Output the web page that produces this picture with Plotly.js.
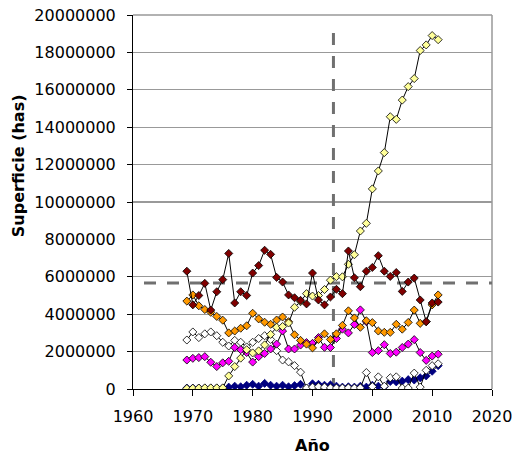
<!DOCTYPE html>
<html>
<head>
<meta charset="utf-8">
<script src="https://cdn.plot.ly/plotly-3.0.1.min.js"></script>
<style>html,body{margin:0;padding:0;background:#fff}#chart{width:514px;height:454px}</style>
</head>
<body>
<div id="chart"></div>
<script>
var years = [1969,1970,1971,1972,1973,1974,1975,1976,1977,1978,1979,1980,1981,1982,1983,1984,1985,1986,1987,1988,1989,1990,1991,1992,1993,1994,1995,1996,1997,1998,1999,2000,2001,2002,2003,2004,2005,2006,2007,2008,2009,2010,2011];

var serieGranate = [6300000,4500000,5000000,5650000,4220000,5200000,5850000,7250000,4600000,5200000,5000000,6200000,6600000,7420000,7200000,5970000,5720000,5030000,4880000,4740000,4550000,6200000,4760000,4500000,4920000,5330000,5100000,7380000,5950000,5470000,6300000,6500000,7130000,6300000,6020000,6230000,5220000,5720000,5930000,4760000,3600000,4600000,4650000];

var serieNaranja = [4700000,5030000,4450000,4250000,4100000,3880000,3680000,3000000,3100000,3250000,3380000,4050000,3750000,3570000,3460000,3690000,3850000,3600000,2900000,2600000,2400000,2200000,2650000,2950000,2650000,2950000,3400000,4180000,3800000,3300000,3650000,3550000,3100000,3030000,3030000,3460000,3200000,3560000,4220000,3510000,3600000,4500000,5030000];

var serieMagenta = [1550000,1640000,1680000,1730000,1430000,1200000,1400000,1480000,2220000,2100000,1950000,1440000,1730000,1900000,2140000,2400000,3100000,2140000,2140000,2350000,2480000,2440000,2750000,2230000,2220000,2700000,3200000,3000000,3450000,4230000,3600000,1950000,2050000,2370000,1900000,1970000,2220000,2400000,2640000,1950000,1530000,1760000,1860000];

var serieBlanca = [2620000,3050000,2750000,2950000,3050000,2850000,2500000,2300000,2600000,2500000,2250000,2500000,2700000,2850000,2650000,2050000,1550000,1450000,1250000,900000,50000,100000,120000,100000,60000,50000,50000,60000,50000,60000,880000,130000,650000,150000,600000,650000,50000,50000,850000,100000,1000000,1250000,1350000];

var serieAmarilla = [30000,40000,50000,60000,60000,60000,60000,700000,1200000,1650000,2100000,1930000,2040000,2360000,2920000,3300000,3340000,3530000,4370000,4670000,5100000,4970000,5000000,5320000,5820000,6010000,6000000,6670000,7180000,8450000,8860000,10700000,11660000,12640000,14560000,14420000,15450000,16170000,16600000,18100000,18400000,18900000,18680000];

var serieAzul = [50000,50000,50000,50000,50000,50000,50000,100000,150000,120000,200000,250000,150000,300000,200000,150000,200000,120000,180000,250000,50000,280000,250000,200000,220000,150000,100000,120000,100000,150000,100000,200000,150000,120000,400000,380000,420000,500000,480000,600000,700000,950000,1250000];

var refHorizontal = 5670000;
var refVertical = 1993.5;
var refVerticalTop = 19040000;

var F = 'DejaVu Sans, Liberation Sans, Arial, sans-serif';

function serie(y, fill, outline) {
  return {
    x: years, y: y, type: 'scatter', mode: 'lines+markers',
    line: {color: '#000000', width: 1},
    marker: {symbol: 'diamond', size: 6.2, color: fill, line: {color: outline, width: 0.8}},
    showlegend: false, hoverinfo: 'skip'
  };
}

var data = [
  serie(serieAzul, '#000080', '#000080'),
  serie(serieBlanca, '#FFFFFF', '#000000'),
  serie(serieMagenta, '#FF00FF', '#000000'),
  serie(serieNaranja, '#FF9900', '#000000'),
  serie(serieAmarilla, '#FFFF99', '#000000'),
  serie(serieGranate, '#800000', '#000000')
];

var layout = {
  width: 514, height: 454,
  margin: {l: 133, r: 22, t: 15, b: 65, pad: 0},
  paper_bgcolor: '#ffffff', plot_bgcolor: '#ffffff',
  font: {family: F, size: 16, color: '#000000'},
  xaxis: {
    range: [1960, 2020], tick0: 1960, dtick: 10,
    showline: true, linecolor: '#000000', linewidth: 1,
    ticks: 'outside', ticklen: 6, tickcolor: '#000000', tickwidth: 1,
    showgrid: false, zeroline: false,
    tickfont: {family: F, size: 16, color: '#000000'},
    ticklabelstandoff: 7
  },
  yaxis: {
    range: [0, 20000000], tick0: 0, dtick: 2000000, tickformat: 'd',
    showline: true, linecolor: '#000000', linewidth: 1,
    ticks: 'outside', ticklen: 5, tickcolor: '#000000', tickwidth: 1,
    showgrid: true, gridcolor: '#999999', gridwidth: 1.3,
    zeroline: false,
    tickfont: {family: F, size: 16, color: '#000000'},
    ticklabelstandoff: 8
  },
  shapes: [
    {type: 'line', xref: 'paper', yref: 'paper', x0: 0, x1: 1, y0: 1, y1: 1, line: {color: '#999999', width: 1.5}, layer: 'below'},
    {type: 'line', xref: 'paper', yref: 'paper', x0: 1, x1: 1, y0: 0, y1: 1, line: {color: '#999999', width: 1.5}, layer: 'below'},
    {type: 'line', xref: 'paper', yref: 'y', x0: 0, x1: 1, y0: refHorizontal, y1: refHorizontal, line: {color: '#707070', width: 3, dash: '0px,11px,12px,0px'}, layer: 'between'},
    {type: 'line', xref: 'x', yref: 'y', x0: refVertical, x1: refVertical, y0: refVerticalTop, y1: 0, line: {color: '#707070', width: 3, dash: '12px,11px'}, layer: 'between'}
  ],
  annotations: [
    {text: '<b>Superficie (has)</b>', xref: 'paper', yref: 'paper', x: -0.32, y: 0.596, xanchor: 'center', yanchor: 'middle', textangle: -90, showarrow: false, font: {family: F, size: 16, color: '#000000'}},
    {text: '<b>Año</b>', xref: 'paper', yref: 'paper', x: 0.5, y: -0.15, xanchor: 'center', yanchor: 'middle', showarrow: false, font: {family: F, size: 16, color: '#000000'}}
  ]
};

Plotly.newPlot('chart', data, layout, {staticPlot: true, displayModeBar: false});
</script>
</body>
</html>
